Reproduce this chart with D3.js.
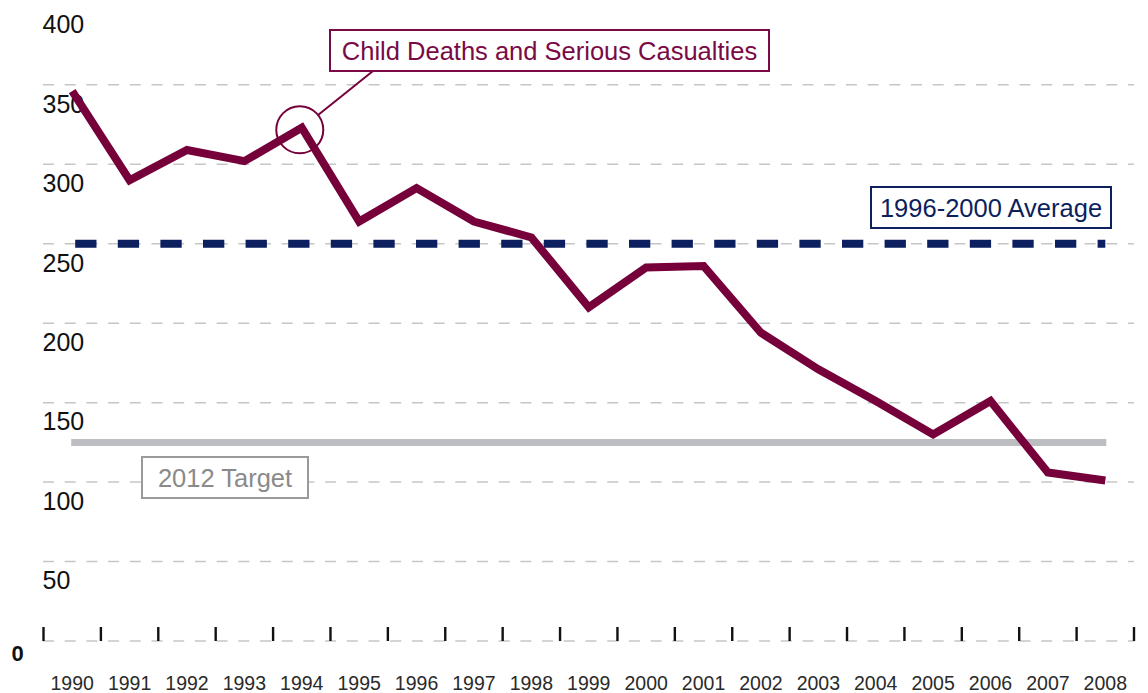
<!DOCTYPE html>
<html>
<head>
<meta charset="utf-8">
<script src="https://cdn.jsdelivr.net/npm/d3@7"></script>
<style>
  body { margin: 0; background: #fff; }
  svg { display: block; font-family: "Liberation Sans", Arial, sans-serif; }
</style>
</head>
<body>
<svg id="chart" width="1148" height="693"></svg>
<script>
// data
let years = [1990, 1991, 1992, 1993, 1994, 1995, 1996, 1997, 1998, 1999,
             2000, 2001, 2002, 2003, 2004, 2005, 2006, 2007, 2008];
let casualties = [346, 290, 309, 302, 323, 264, 285, 264, 254, 210,
                  235, 236, 194, 171, 151, 130, 151, 106, 101];
let average = 250;
let target = 125;
let yTicks = [0, 50, 100, 150, 200, 250, 300, 350, 400];
let gridValues = [0, 50, 100, 150, 200, 250, 300, 350];

let maroon = "#76003a";
let navy = "#0c1f5e";

let svg = d3.select("#chart");

let x = d3.scalePoint()
    .domain(years)
    .range([43.5, 1134])
    .padding(0.5);

let y = d3.scaleLinear()
    .domain([0, 400])
    .range([641, 5.4]);

let step = x.step();

// grid lines
svg.append("g")
    .selectAll("line")
    .data(gridValues)
    .enter()
    .append("line")
    .attr("x1", 43)
    .attr("x2", 1134)
    .attr("y1", d => y(d))
    .attr("y2", d => y(d))
    .attr("stroke", "#c6c6c6")
    .attr("stroke-width", 1.5)
    .attr("stroke-dasharray", "11,10.7")

// y labels, sitting below their grid lines
svg.append("g")
    .selectAll("text")
    .data(yTicks)
    .enter()
    .append("text")
    .attr("x", d => d === 0 ? 11.5 : 42.5)
    .attr("y", d => d === 0 ? y(d) + 19.5 : y(d) + 27.8)
    .attr("font-size", d => d === 0 ? 22 : 25)
    .attr("font-weight", d => d === 0 ? "bold" : "normal")
    .attr("fill", "#111")
    .text(d => d)

// x ticks at the year boundaries
let tickXs = years.map(d => x(d) - step / 2).concat([x(years[years.length - 1]) + step / 2]);
svg.append("g")
    .selectAll("line")
    .data(tickXs)
    .enter()
    .append("line")
    .attr("x1", d => d)
    .attr("x2", d => d)
    .attr("y1", 627)
    .attr("y2", 641)
    .attr("stroke", "#111")
    .attr("stroke-width", 2.4)

// year labels
svg.append("g")
    .selectAll("text")
    .data(years)
    .enter()
    .append("text")
    .attr("x", d => x(d))
    .attr("y", 690)
    .attr("text-anchor", "middle")
    .attr("font-size", 19.5)
    .attr("fill", "#2a2a2a")
    .text(d => d)

// 2012 target
svg.append("line")
    .attr("x1", x(1990) - 1)
    .attr("x2", x(2008) + 1)
    .attr("y1", y(target))
    .attr("y2", y(target))
    .attr("stroke", "#bcbdc0")
    .attr("stroke-width", 7)

// 1996-2000 average
svg.append("line")
    .attr("x1", x(1990) + 3)
    .attr("x2", x(2008))
    .attr("y1", y(average))
    .attr("y2", y(average))
    .attr("stroke", navy)
    .attr("stroke-width", 8)
    .attr("stroke-dasharray", "21.3,21.3")

// main series
let line = d3.line()
    .x((d, i) => x(years[i]))
    .y(d => y(d));

svg.append("path")
    .datum(casualties)
    .attr("d", line)
    .attr("fill", "none")
    .attr("stroke", maroon)
    .attr("stroke-width", 8)
    .attr("stroke-linejoin", "miter")

// callout circle on 1994
let cx = x(1994) - 2, cy = y(casualties[4]) + 2, r = 23.5;
svg.append("circle")
    .attr("cx", cx)
    .attr("cy", cy)
    .attr("r", r)
    .attr("fill", "none")
    .attr("stroke", maroon)
    .attr("stroke-width", 2)

let bx = 373, by = 71;
let ang = Math.atan2(by - cy, bx - cx);
svg.append("line")
    .attr("x1", cx + r * Math.cos(ang))
    .attr("y1", cy + r * Math.sin(ang))
    .attr("x2", bx)
    .attr("y2", by)
    .attr("stroke", maroon)
    .attr("stroke-width", 2)

// label boxes
function labelBox(text, bx, by, bw, bh, color, stroke) {
    svg.append("rect")
        .attr("x", bx)
        .attr("y", by)
        .attr("width", bw)
        .attr("height", bh)
        .attr("fill", "#fff")
        .attr("stroke", stroke)
        .attr("stroke-width", 2)
    svg.append("text")
        .attr("x", bx + bw / 2)
        .attr("y", by + bh / 2 + 9)
        .attr("text-anchor", "middle")
        .attr("font-size", 25.5)
        .attr("fill", color)
        .text(text)
}

labelBox("Child Deaths and Serious Casualties", 330, 30, 439, 41, "#7a0a45", "#7a0a45")
labelBox("1996-2000 Average", 871, 187, 240, 41, navy, navy)
labelBox("2012 Target", 142, 457, 166, 41, "#8a8a8a", "#9a9a9a")
</script>
</body>
</html>
